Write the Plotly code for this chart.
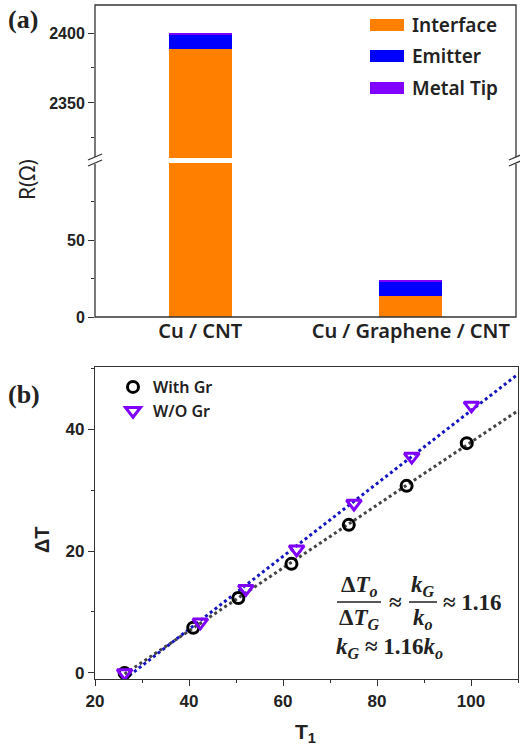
import numpy as np
import plotly.graph_objects as go

W, H = 520, 750

# ---------------- data ----------------
categories = ["Cu / CNT", "Cu / Graphene / CNT"]
interface = [2388.6, 13.4]
emitter = [10.0, 9.9]
metal_tip = [1.2, 1.0]
bar_names = ["Interface", "Emitter", "Metal Tip"]
bar_colors = ["#ff8000", "#0000ff", "#8000ff"]

t1_with = [26.3, 40.9, 50.5, 61.8, 74.0, 86.3, 99.1]
dt_with = [0.0, 7.4, 12.3, 17.9, 24.3, 30.7, 37.7]
t1_wo = [26.3, 42.4, 52.1, 62.9, 75.1, 87.4, 100.1]
dt_wo = [0.0, 8.3, 13.8, 20.3, 27.8, 35.5, 43.9]

y_upper_ticks = [2350, 2400]
y_lower_ticks = [0, 50]
x_b_ticks = [20, 40, 60, 80, 100]
y_b_ticks = [0, 20, 40]


def px(x):
    return x / W


def py(y):
    return 1 - y / H


fig = go.Figure()

series = [interface, emitter, metal_tip]
for yaxis, xaxis in [("y", "x"), ("y2", "x2")]:
    for name, vals, col in zip(bar_names, series, bar_colors):
        fig.add_trace(go.Bar(x=categories, y=vals, name=name, marker_color=col,
                             marker_line_width=0, width=0.3, showlegend=False,
                             xaxis=xaxis, yaxis=yaxis))

# fits
x_end = 110
for xs, ys, col in [(t1_with, dt_with, "#444444"), (t1_wo, dt_wo, "#1414c0")]:
    k, b = np.polyfit(xs, ys, 1)
    xx = np.array([min(xs), x_end])
    fig.add_trace(go.Scatter(x=xx, y=k * xx + b, mode="lines",
                             line=dict(color=col, width=3, dash="dot"),
                             showlegend=False, xaxis="x3", yaxis="y3"))

fig.add_trace(go.Scatter(x=t1_with, y=dt_with, mode="markers", name="With Gr",
                         marker=dict(symbol="circle-open", size=11, color="black",
                                     line=dict(width=3)),
                         xaxis="x3", yaxis="y3"))
fig.add_trace(go.Scatter(x=t1_wo, y=dt_wo, mode="markers", name="W/O Gr",
                         marker=dict(symbol="triangle-down-open", size=13, color="#8000ff",
                                     line=dict(width=3)),
                         xaxis="x3", yaxis="y3"))

tickfont = dict(family="Liberation Sans", size=16, color="#222", weight="bold")
tickfont_b = dict(family="Liberation Sans", size=17, color="#222", weight="bold")
xa_dom = [px(95), px(516)]
xb_dom = [px(95), px(518)]
common = dict(automargin=False, showgrid=False, zeroline=False)

fig.update_layout(
    width=W, height=H, margin=dict(l=0, r=0, t=0, b=0, autoexpand=False),
    paper_bgcolor="white", plot_bgcolor="white", barmode="stack",
    xaxis=dict(domain=xa_dom, anchor="y", range=[-0.5, 1.5], showline=False, ticks="",
               tickfont=dict(family="Noto Sans", size=20, color="#222", weight=600), **common),
    xaxis2=dict(domain=xa_dom, anchor="y2", matches="x", showticklabels=False,
                ticks="", showline=False, **common),
    yaxis=dict(domain=[py(317), py(163)], anchor="x", range=[0, 100],
               tickmode="array", tickvals=y_lower_ticks,
               ticks="outside", ticklen=6, tickwidth=1.3, tickcolor="#333",
               minor=dict(dtick=25, ticks="outside", ticklen=3, tickcolor="#333"),
               showline=False, tickfont=tickfont, **common),
    yaxis2=dict(domain=[py(158), py(5)], anchor="x2", range=[2310.7, 2420], tickvals=y_upper_ticks,
                ticks="outside", ticklen=6, tickwidth=1.3, tickcolor="#333",
                minor=dict(dtick=25, ticks="outside", ticklen=3, tickcolor="#333"),
                showline=False, tickfont=tickfont, **common),
    xaxis3=dict(domain=xb_dom, anchor="y3", range=[20, 110], tickvals=x_b_ticks,
                ticks="outside", ticklen=6, tickwidth=1.3, tickcolor="#333",
                minor=dict(dtick=10, ticks="outside", ticklen=3, tickcolor="#333"),
                showline=True, mirror=True, linecolor="#333", linewidth=1.3,
                tickfont=tickfont_b, **common),
    yaxis3=dict(domain=[py(679), py(367)], anchor="x3", range=[-1, 50.2], tickvals=y_b_ticks,
                ticks="outside", ticklen=6, tickwidth=1.3, tickcolor="#333",
                minor=dict(dtick=10, ticks="outside", ticklen=3, tickcolor="#333"),
                showline=True, mirror=True, linecolor="#333", linewidth=1.3,
                tickfont=tickfont_b, **common),
    legend=dict(x=px(113), y=py(370), xanchor="left", yanchor="top",
                bgcolor="rgba(0,0,0,0)", tracegroupgap=0, traceorder="normal",
                font=dict(family="Noto Sans", size=16, color="#222", weight=600)),
)

shapes = []
# frame of panel (a)
shapes.append(dict(type="rect", xref="paper", yref="paper", x0=px(95), x1=px(516),
                   y0=py(317), y1=py(5), line=dict(color="#333", width=1.3)))
# axis break marks
for xc in [95, 516]:
    shapes.append(dict(type="rect", xref="paper", yref="paper", x0=px(xc - 8), x1=px(xc + 8),
                       y0=py(164), y1=py(157), fillcolor="white", line=dict(width=0)))
    for yc in [157, 163]:
        shapes.append(dict(type="line", xref="paper", yref="paper",
                           x0=px(xc - 7), y0=py(yc + 3), x1=px(xc + 7), y1=py(yc - 3),
                           line=dict(color="#333", width=1.3)))
# custom legend (a)
leg_y = [25, 56, 88]
for yc, col in zip(leg_y, bar_colors):
    shapes.append(dict(type="rect", xref="paper", yref="paper", x0=px(370), x1=px(404),
                       y0=py(yc + 6), y1=py(yc - 6), fillcolor=col, line=dict(width=0)))
# fraction bars
for x0, x1 in [(337, 381), (409, 437)]:
    shapes.append(dict(type="line", xref="paper", yref="paper", x0=px(x0), x1=px(x1),
                       y0=py(602), y1=py(602), line=dict(color="#222", width=1.5)))

annotations = []
for yc, name in zip(leg_y, bar_names):
    annotations.append(dict(x=px(410), y=py(yc), xref="paper", yref="paper", text=name,
                            showarrow=False, xanchor="left", yanchor="middle",
                            font=dict(family="Noto Sans", size=19, color="#222", weight=600)))

serif = dict(family="Liberation Serif", size=23, color="#222")
math_items = [
    (359, 586, "<b>Δ<i>T<sub>o</sub></i></b>", "center"),
    (359, 619, "<b>Δ<i>T<sub>G</sub></i></b>", "center"),
    (395, 602, "<b>≈</b>", "center"),
    (423, 586, "<b><i>k<sub>G</sub></i></b>", "center"),
    (423, 619, "<b><i>k<sub>o</sub></i></b>", "center"),
    (441, 602, "<b>≈ 1.16</b>", "left"),
    (334, 648, "<b><i>k<sub>G</sub></i> ≈ 1.16<i>k<sub>o</sub></i></b>", "left"),
]
for x, y, t, xa in math_items:
    annotations.append(dict(x=px(x), y=py(y), xref="paper", yref="paper", text=t,
                            showarrow=False, xanchor=xa, yanchor="middle", font=serif))

annotations += [
    dict(x=px(6), y=py(20), xref="paper", yref="paper", text="<b>(a)</b>", showarrow=False,
         xanchor="left", yanchor="middle", font=dict(family="Liberation Serif", size=26, color="#222")),
    dict(x=px(6), y=py(394), xref="paper", yref="paper", text="<b>(b)</b>", showarrow=False,
         xanchor="left", yanchor="middle", font=dict(family="Liberation Serif", size=26, color="#222")),
    dict(x=px(27), y=py(180), xref="paper", yref="paper", text="R(Ω)", showarrow=False,
         textangle=-90, xanchor="center", yanchor="middle",
         font=dict(family="Noto Sans", size=21, color="#222")),
    dict(x=px(42), y=py(540), xref="paper", yref="paper", text="<b>ΔT</b>", showarrow=False,
         textangle=-90, xanchor="center", yanchor="middle",
         font=dict(family="Liberation Sans", size=20, color="#222")),
    dict(x=px(305), y=py(733), xref="paper", yref="paper", text="<b>T<sub>1</sub></b>", showarrow=False,
         xanchor="center", yanchor="middle",
         font=dict(family="Liberation Sans", size=21, color="#222")),
]

fig.update_layout(shapes=shapes, annotations=annotations)
fig.write_html("out.html")
